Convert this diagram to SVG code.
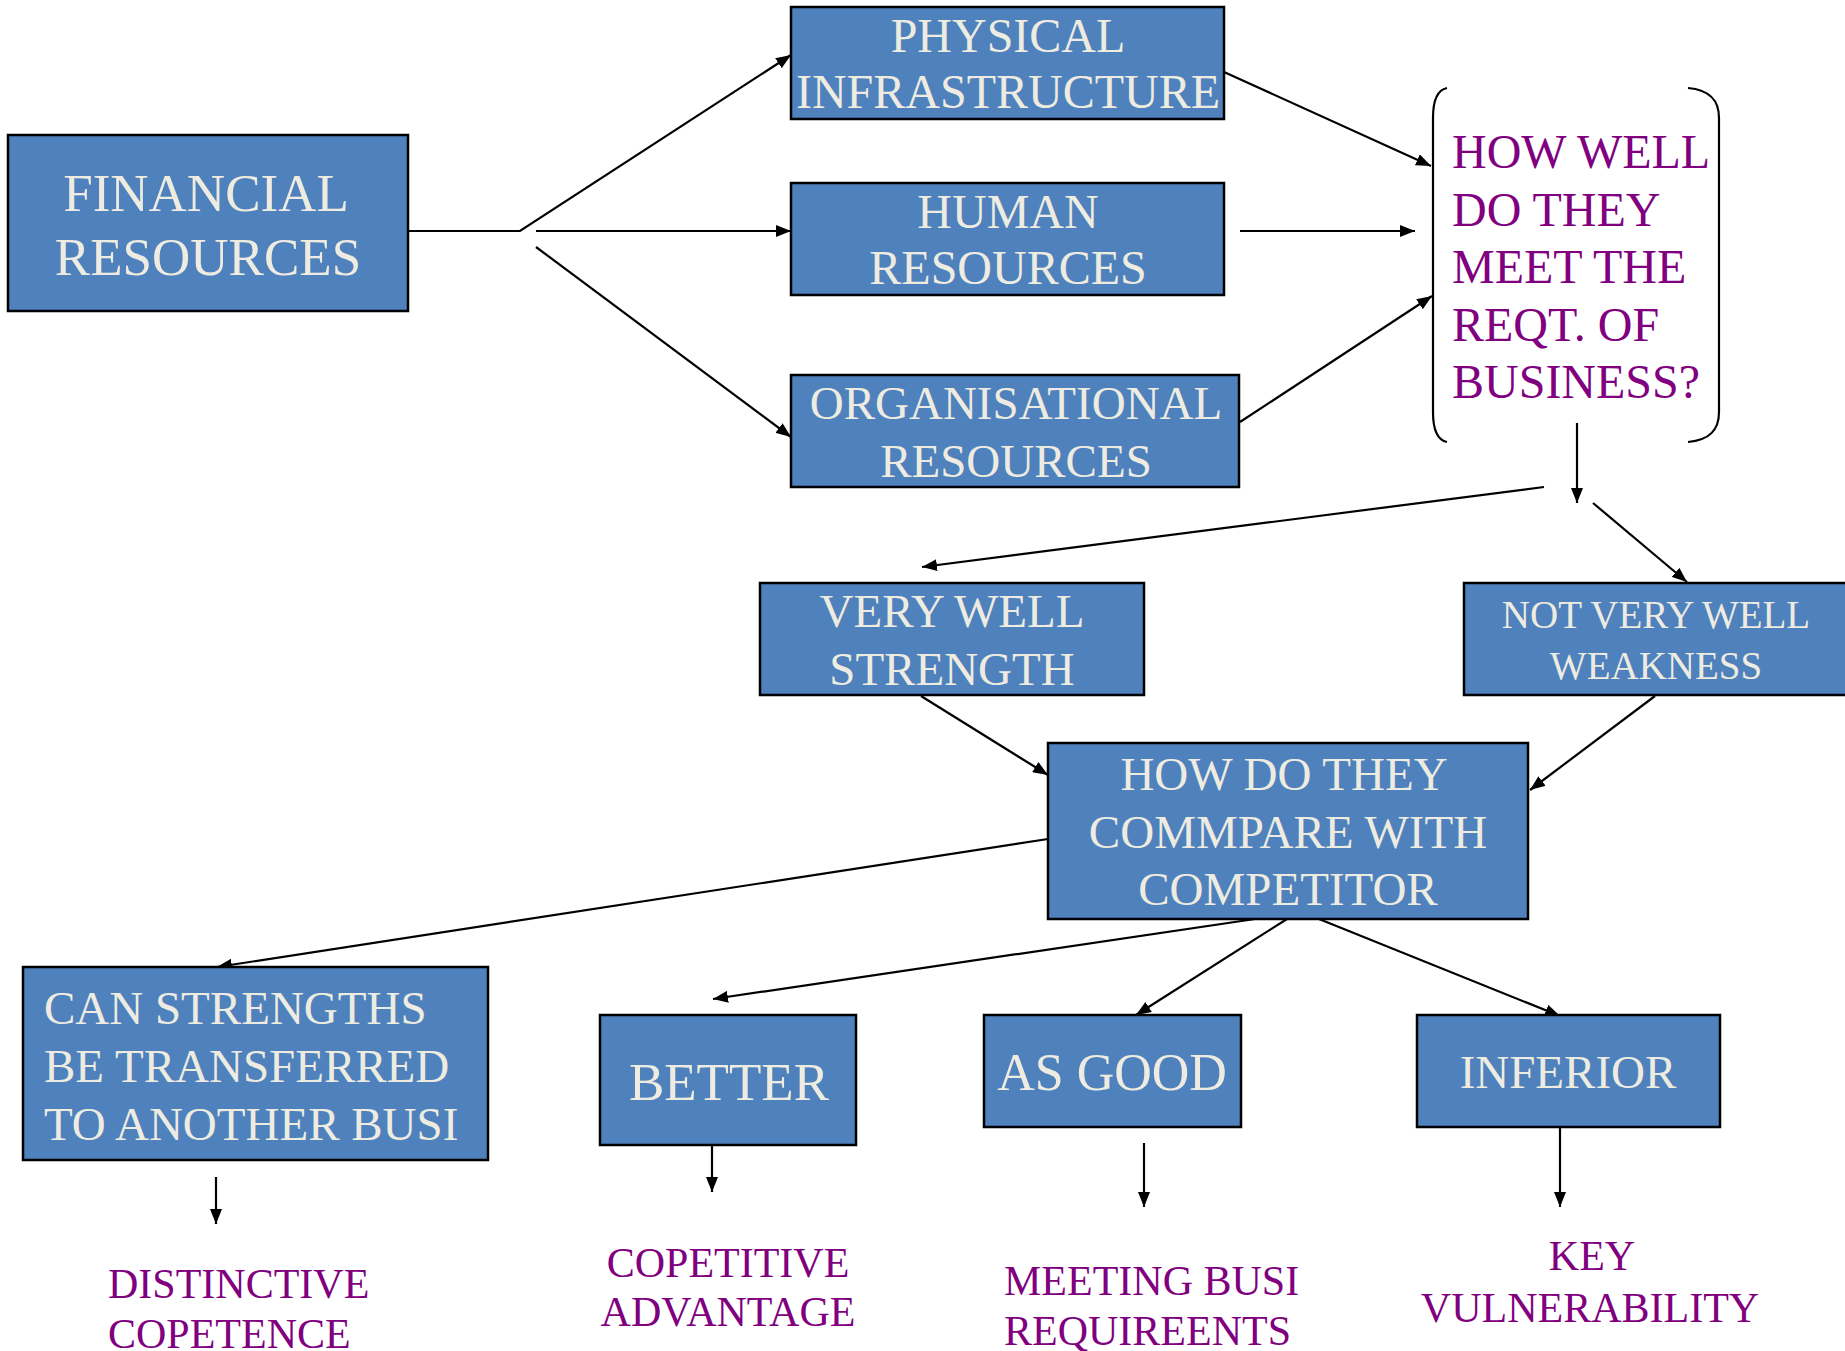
<svg xmlns="http://www.w3.org/2000/svg" width="1845" height="1351" viewBox="0 0 1845 1351">
<style>
.box{fill:#4F81BD;stroke:#000;stroke-width:2.5}
.t{font-family:"Liberation Serif","Times New Roman",serif;fill:#EEECE1;text-anchor:middle}
.p{font-family:"Liberation Serif","Times New Roman",serif;fill:#800080}
.c{fill:none;stroke:#000;stroke-width:2.2}
</style>
<defs>
<marker id="ah" markerUnits="userSpaceOnUse" markerWidth="16" markerHeight="12" refX="15" refY="6" orient="auto">
<path d="M0,0 L15,6 L0,12 z" fill="#000"/>
</marker>
</defs>
<rect width="1845" height="1351" fill="#fff"/>
<g id="connectors">
<polyline class="c" points="408,231 520,231 791,55" marker-end="url(#ah)"/>
<line class="c" x1="536" y1="231" x2="791" y2="231" marker-end="url(#ah)"/>
<line class="c" x1="536" y1="247" x2="791" y2="437" marker-end="url(#ah)"/>
<line class="c" x1="1224" y1="72" x2="1431" y2="166" marker-end="url(#ah)"/>
<line class="c" x1="1240" y1="231" x2="1415" y2="231" marker-end="url(#ah)"/>
<line class="c" x1="1240" y1="422" x2="1432" y2="296" marker-end="url(#ah)"/>
<line class="c" x1="1577" y1="423" x2="1577" y2="503" marker-end="url(#ah)"/>
<line class="c" x1="1544" y1="487" x2="922" y2="567" marker-end="url(#ah)"/>
<line class="c" x1="1593" y1="503" x2="1687" y2="582" marker-end="url(#ah)"/>
<line class="c" x1="921" y1="696" x2="1048" y2="775" marker-end="url(#ah)"/>
<line class="c" x1="1655" y1="696" x2="1530" y2="790" marker-end="url(#ah)"/>
<line class="c" x1="1048" y1="839" x2="217" y2="967" marker-end="url(#ah)"/>
<line class="c" x1="1255" y1="919" x2="713" y2="999" marker-end="url(#ah)"/>
<line class="c" x1="1287" y1="919" x2="1136" y2="1015" marker-end="url(#ah)"/>
<line class="c" x1="1319" y1="919" x2="1560" y2="1016" marker-end="url(#ah)"/>
<line class="c" x1="216" y1="1177" x2="216" y2="1224" marker-end="url(#ah)"/>
<line class="c" x1="712" y1="1145" x2="712" y2="1192" marker-end="url(#ah)"/>
<line class="c" x1="1144" y1="1143" x2="1144" y2="1207" marker-end="url(#ah)"/>
<line class="c" x1="1560" y1="1127" x2="1560" y2="1207" marker-end="url(#ah)"/>
</g>
<g id="financial">
<rect class="box" x="8" y="135" width="400" height="176"/>
<text class="t" font-size="53"><tspan x="206" y="211">FINANCIAL</tspan><tspan x="208" y="275">RESOURCES</tspan></text>
</g>
<g id="physical">
<rect class="box" x="791" y="7" width="433" height="112"/>
<text class="t" font-size="48"><tspan x="1008" y="52">PHYSICAL</tspan><tspan x="1008" y="108">INFRASTRUCTURE</tspan></text>
</g>
<g id="human">
<rect class="box" x="791" y="183" width="433" height="112"/>
<text class="t" font-size="48"><tspan x="1008" y="228">HUMAN</tspan><tspan x="1008" y="284">RESOURCES</tspan></text>
</g>
<g id="organisational">
<rect class="box" x="791" y="375" width="448" height="112"/>
<text class="t" font-size="47"><tspan x="1016" y="419">ORGANISATIONAL</tspan><tspan x="1016" y="477">RESOURCES</tspan></text>
</g>
<g id="howwell">
<path class="c" d="M1447,88 C1437,90 1433,100 1433,118 L1433,412 C1433,430 1437,440 1447,442"/>
<path class="c" d="M1688,88 C1710,90 1719,100 1719,118 L1719,412 C1719,430 1710,440 1688,442"/>
<text class="p" font-size="48"><tspan x="1452" y="168">HOW WELL</tspan><tspan x="1452" y="226">DO THEY</tspan><tspan x="1452" y="283">MEET THE</tspan><tspan x="1452" y="341">REQT. OF</tspan><tspan x="1452" y="398">BUSINESS?</tspan></text>
</g>
<g id="verywell">
<rect class="box" x="760" y="583" width="384" height="112"/>
<text class="t" font-size="47"><tspan x="952" y="627">VERY WELL</tspan><tspan x="952" y="685">STRENGTH</tspan></text>
</g>
<g id="notverywell">
<rect class="box" x="1464" y="583" width="384" height="112"/>
<text class="t" font-size="39"><tspan x="1656" y="628">NOT VERY WELL</tspan><tspan x="1656" y="679">WEAKNESS</tspan></text>
</g>
<g id="compare">
<rect class="box" x="1048" y="743" width="480" height="176"/>
<text class="t" font-size="47"><tspan x="1284" y="790">HOW DO THEY</tspan><tspan x="1288" y="848">COMMPARE WITH</tspan><tspan x="1288" y="905">COMPETITOR</tspan></text>
</g>
<g id="transfer">
<rect class="box" x="23" y="967" width="465" height="193"/>
<text class="t" font-size="47" text-anchor="start" style="text-anchor:start"><tspan x="44" y="1024">CAN STRENGTHS</tspan><tspan x="44" y="1082">BE TRANSFERRED</tspan><tspan x="44" y="1140">TO ANOTHER BUSI</tspan></text>
</g>
<g id="better">
<rect class="box" x="600" y="1015" width="256" height="130"/>
<text class="t" font-size="53" x="729" y="1100">BETTER</text>
</g>
<g id="asgood">
<rect class="box" x="984" y="1015" width="257" height="112"/>
<text class="t" font-size="52" x="1112" y="1090">AS GOOD</text>
</g>
<g id="inferior">
<rect class="box" x="1417" y="1015" width="303" height="112"/>
<text class="t" font-size="47" x="1568" y="1088">INFERIOR</text>
</g>
<g id="distinctive">
<text class="p" font-size="42"><tspan x="108" y="1298">DISTINCTIVE</tspan><tspan x="108" y="1348">COPETENCE</tspan></text>
</g>
<g id="competitive">
<text class="p" font-size="42" text-anchor="middle"><tspan x="728" y="1277">COPETITIVE</tspan><tspan x="728" y="1326">ADVANTAGE</tspan></text>
</g>
<g id="meeting">
<text class="p" font-size="42"><tspan x="1004" y="1295">MEETING BUSI</tspan><tspan x="1004" y="1345">REQUIREENTS</tspan></text>
</g>
<g id="key">
<text class="p" font-size="42" text-anchor="middle"><tspan x="1592" y="1270">KEY</tspan><tspan x="1590" y="1322">VULNERABILITY</tspan></text>
</g>
</svg>
